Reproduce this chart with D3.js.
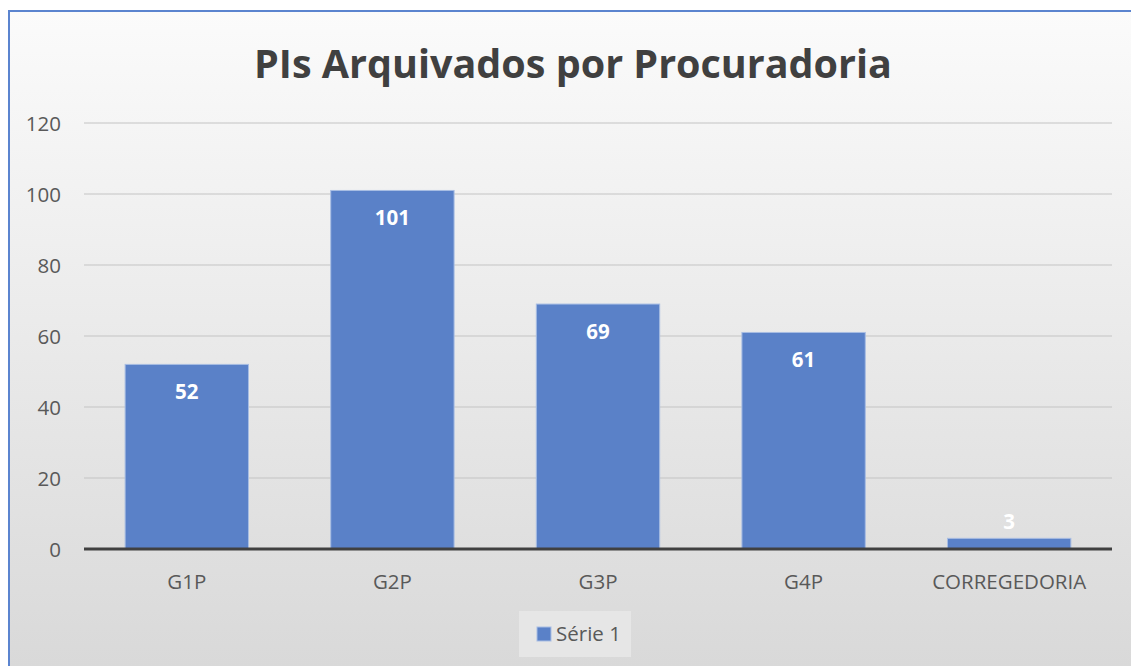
<!DOCTYPE html>
<html lang="pt">
<head>
<meta charset="utf-8">
<title>PIs Arquivados por Procuradoria</title>
<script src="https://d3js.org/d3.v7.min.js"></script>
<style>
  html, body { margin: 0; background: #fff; overflow: hidden; }
  svg { display: block; }
  text { font-family: "Open Sans", "Noto Sans", sans-serif; }
</style>
</head>
<body>
<svg id="chart" width="1131" height="666"></svg>
<script>
// data
var categories = ["G1P", "G2P", "G3P", "G4P", "CORREGEDORIA"];
var values = [52, 101, 69, 61, 3];
var yTicks = [0, 20, 40, 60, 80, 100, 120];
var seriesName = "Série 1";
var title = "PIs Arquivados por Procuradoria";

var svg = d3.select("#chart");
var W = 1131, H = 666;
var margin = { left: 84, right: 19, top: 123, bottom: 117 };

// background gradient
var defs = svg.append("defs");
var grad = defs.append("linearGradient").attr("id", "bg")
  .attr("x1", 0).attr("y1", 0).attr("x2", 0).attr("y2", 1);
grad.append("stop").attr("offset", "0%").attr("stop-color", "#fbfbfb");
grad.append("stop").attr("offset", "100%").attr("stop-color", "#d9d9d9");

svg.append("rect").attr("x", 9).attr("y", 11).attr("width", W - 9).attr("height", H - 11)
  .attr("fill", "url(#bg)");
// chart border: only top and left edges are inside the picture
svg.append("path").attr("d", "M9," + H + "V11H" + W)
  .attr("fill", "none").attr("stroke", "#5b84cf").attr("stroke-width", 2);

var x = d3.scaleBand().domain(categories)
  .range([margin.left, W - margin.right]).paddingInner(0.4).paddingOuter(0.2);
var y = d3.scaleLinear().domain([0, 120]).range([H - margin.bottom, margin.top]);

// gridlines
svg.append("g").selectAll("line").data(yTicks.slice(1)).enter().append("line")
  .attr("x1", margin.left).attr("x2", W - margin.right)
  .attr("y1", function(d) { return y(d); }).attr("y2", function(d) { return y(d); })
  .attr("stroke", "#c3c3c3").attr("stroke-width", 1.2);

// y axis labels
var yAxis = d3.axisLeft(y).tickValues(yTicks).tickSize(0).tickPadding(0);
var ya = svg.append("g").attr("transform", "translate(61,0)").call(yAxis);
ya.select(".domain").remove();
ya.selectAll("text").attr("font-size", 20.5).attr("fill", "#595959").attr("dy", "0.35em");

// bars
svg.append("g").selectAll("rect").data(values).enter().append("rect")
  .attr("x", function(d, i) { return x(categories[i]); })
  .attr("width", x.bandwidth())
  .attr("y", function(d) { return y(d); })
  .attr("height", function(d) { return y(0) - y(d); })
  .attr("fill", "#5a81c8").attr("stroke", "#a8bde3").attr("stroke-width", 1);

// data labels
svg.append("g").selectAll("text").data(values).enter().append("text")
  .attr("x", function(d, i) { return x(categories[i]) + x.bandwidth() / 2; })
  .attr("y", function(d) { return d < 10 ? y(d) - 9 : y(d) + 35; })
  .attr("text-anchor", "middle").attr("font-size", 20.5).attr("font-weight", "bold")
  .attr("fill", "#ffffff").text(function(d) { return d; });

// x axis
var xAxis = d3.axisBottom(x).tickSize(0).tickPadding(0);
var xa = svg.append("g").attr("transform", "translate(0," + y(0) + ")").call(xAxis);
xa.select(".domain").remove();
xa.selectAll("text").attr("font-size", 20.5).attr("fill", "#595959").attr("y", 40).attr("dy", 0);
svg.append("line").attr("x1", margin.left).attr("x2", W - margin.right)
  .attr("y1", y(0)).attr("y2", y(0)).attr("stroke", "#404040").attr("stroke-width", 3);

// title
svg.append("text").attr("x", 573).attr("y", 78).attr("text-anchor", "middle")
  .attr("font-size", 39.5).attr("font-weight", "bold").attr("fill", "#404040")
  .text(title);

// legend
var lg = svg.append("g").attr("transform", "translate(519,611)");
lg.append("rect").attr("width", 112).attr("height", 46).attr("fill", "#e6e6e6");
lg.append("rect").attr("x", 18).attr("y", 16).attr("width", 14).attr("height", 14)
  .attr("fill", "#5a81c8").attr("stroke", "#a8bde3").attr("stroke-width", 1);
lg.append("text").attr("x", 37).attr("y", 30).attr("font-size", 20.5).attr("fill", "#595959")
  .text(seriesName);
</script>
</body>
</html>
